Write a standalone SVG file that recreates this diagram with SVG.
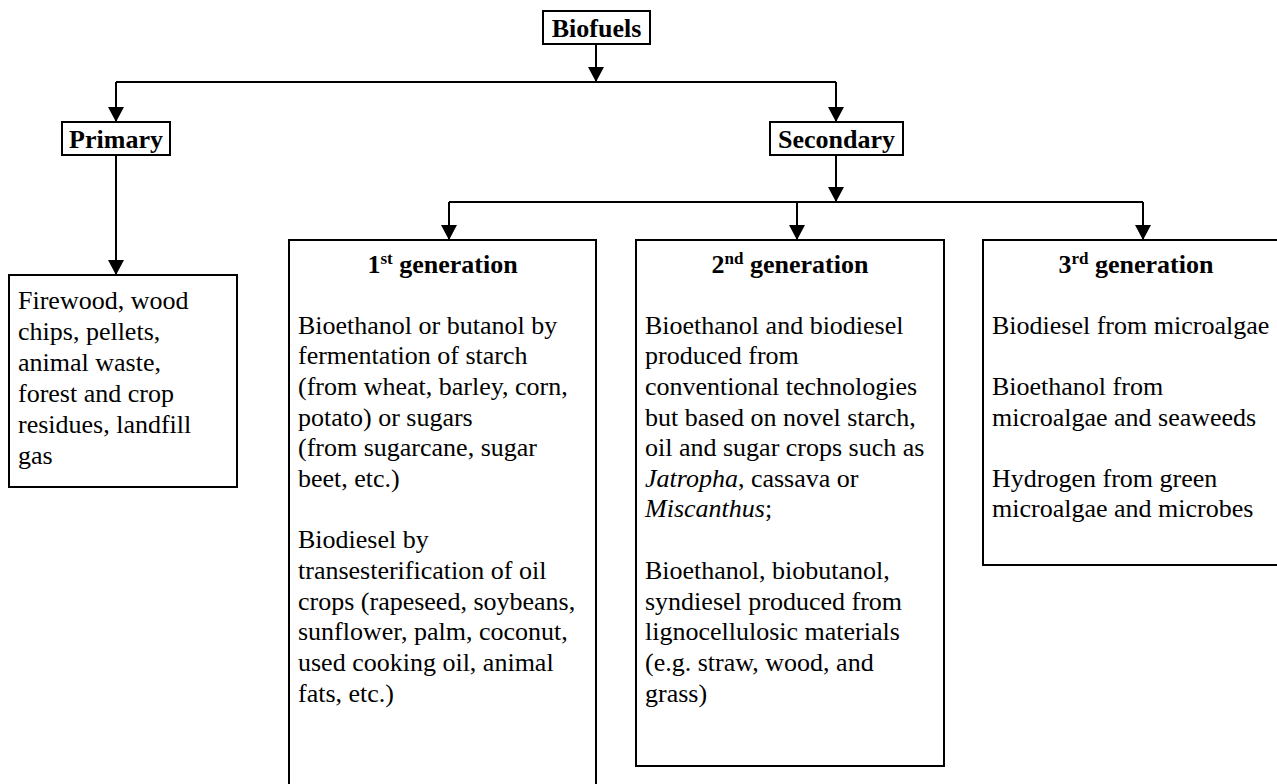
<svg xmlns="http://www.w3.org/2000/svg" width="1277" height="784" viewBox="0 0 1277 784">
<style>
.box{fill:#fff;stroke:#000;stroke-width:2}
.t{font-family:"Liberation Serif","Times New Roman",serif;font-size:26px;fill:#000}
.b{font-weight:bold}
.c{text-anchor:middle}
.con{stroke:#000;stroke-width:2;fill:none}
.sup{font-size:17px}
</style>
<defs>
<marker id="ah" markerUnits="userSpaceOnUse" markerWidth="15" markerHeight="16" viewBox="0 0 15 16" refX="15" refY="8" orient="auto">
<path d="M0,0 L15,8 L0,16 z" fill="#000"/>
</marker>
</defs>
<rect width="1277" height="784" fill="#fff"/>
<g id="connectors">
<path class="con" d="M596,44 V82" marker-end="url(#ah)"/>
<path class="con" d="M116,82 H836"/>
<path class="con" d="M116,82 V122" marker-end="url(#ah)"/>
<path class="con" d="M836,82 V122" marker-end="url(#ah)"/>
<path class="con" d="M116,155 V275" marker-end="url(#ah)"/>
<path class="con" d="M836,155 V202" marker-end="url(#ah)"/>
<path class="con" d="M449,202 H1143"/>
<path class="con" d="M449,202 V240" marker-end="url(#ah)"/>
<path class="con" d="M797,202 V240" marker-end="url(#ah)"/>
<path class="con" d="M1143,202 V240" marker-end="url(#ah)"/>
</g>
<g id="biofuels">
<rect class="box" x="543" y="11" width="107" height="33"/>
<text class="t b c" x="596.5" y="37">Biofuels</text>
</g>
<g id="primary">
<rect class="box" x="62" y="122" width="108" height="33"/>
<text class="t b c" x="116" y="148">Primary</text>
</g>
<g id="secondary">
<rect class="box" x="770" y="122" width="133" height="33"/>
<text class="t b c" x="836.5" y="148">Secondary</text>
</g>
<g id="primary-examples">
<rect class="box" x="9" y="275" width="228" height="212"/>
<text class="t" x="18">
<tspan x="18" y="309">Firewood, wood</tspan>
<tspan x="18" y="340">chips, pellets,</tspan>
<tspan x="18" y="371">animal waste,</tspan>
<tspan x="18" y="402">forest and crop</tspan>
<tspan x="18" y="433">residues, landfill</tspan>
<tspan x="18" y="464">gas</tspan>
</text>
</g>
<g id="gen1">
<rect class="box" x="289" y="240" width="307" height="560"/>
<text class="t b c" x="442.5" y="273">1<tspan class="sup" dy="-9">st</tspan><tspan dy="9"> generation</tspan></text>
<text class="t">
<tspan x="298" y="334">Bioethanol or butanol by</tspan>
<tspan x="298" y="364">fermentation of starch</tspan>
<tspan x="298" y="395">(from wheat, barley, corn,</tspan>
<tspan x="298" y="426">potato) or sugars</tspan>
<tspan x="298" y="456">(from sugarcane, sugar</tspan>
<tspan x="298" y="487">beet, etc.)</tspan>
<tspan x="298" y="548">Biodiesel by</tspan>
<tspan x="298" y="579">transesterification of oil</tspan>
<tspan x="298" y="610">crops (rapeseed, soybeans,</tspan>
<tspan x="298" y="640">sunflower, palm, coconut,</tspan>
<tspan x="298" y="671">used cooking oil, animal</tspan>
<tspan x="298" y="702">fats, etc.)</tspan>
</text>
</g>
<g id="gen2">
<rect class="box" x="636" y="240" width="308" height="526"/>
<text class="t b c" x="790" y="273">2<tspan class="sup" dy="-9">nd</tspan><tspan dy="9"> generation</tspan></text>
<text class="t">
<tspan x="645" y="334">Bioethanol and biodiesel</tspan>
<tspan x="645" y="364">produced from</tspan>
<tspan x="645" y="395">conventional technologies</tspan>
<tspan x="645" y="426">but based on novel starch,</tspan>
<tspan x="645" y="456">oil and sugar crops such as</tspan>
<tspan x="645" y="487"><tspan font-style="italic">Jatropha</tspan>, cassava or</tspan>
<tspan x="645" y="517"><tspan font-style="italic">Miscanthus</tspan>;</tspan>
<tspan x="645" y="579">Bioethanol, biobutanol,</tspan>
<tspan x="645" y="610">syndiesel produced from</tspan>
<tspan x="645" y="640">lignocellulosic materials</tspan>
<tspan x="645" y="671">(e.g. straw, wood, and</tspan>
<tspan x="645" y="702">grass)</tspan>
</text>
</g>
<g id="gen3">
<rect class="box" x="983" y="240" width="306" height="325"/>
<text class="t b c" x="1136" y="273">3<tspan class="sup" dy="-9">rd</tspan><tspan dy="9"> generation</tspan></text>
<text class="t">
<tspan x="992" y="334">Biodiesel from microalgae</tspan>
<tspan x="992" y="395">Bioethanol from</tspan>
<tspan x="992" y="426">microalgae and seaweeds</tspan>
<tspan x="992" y="487">Hydrogen from green</tspan>
<tspan x="992" y="517">microalgae and microbes</tspan>
</text>
</g>
</svg>
